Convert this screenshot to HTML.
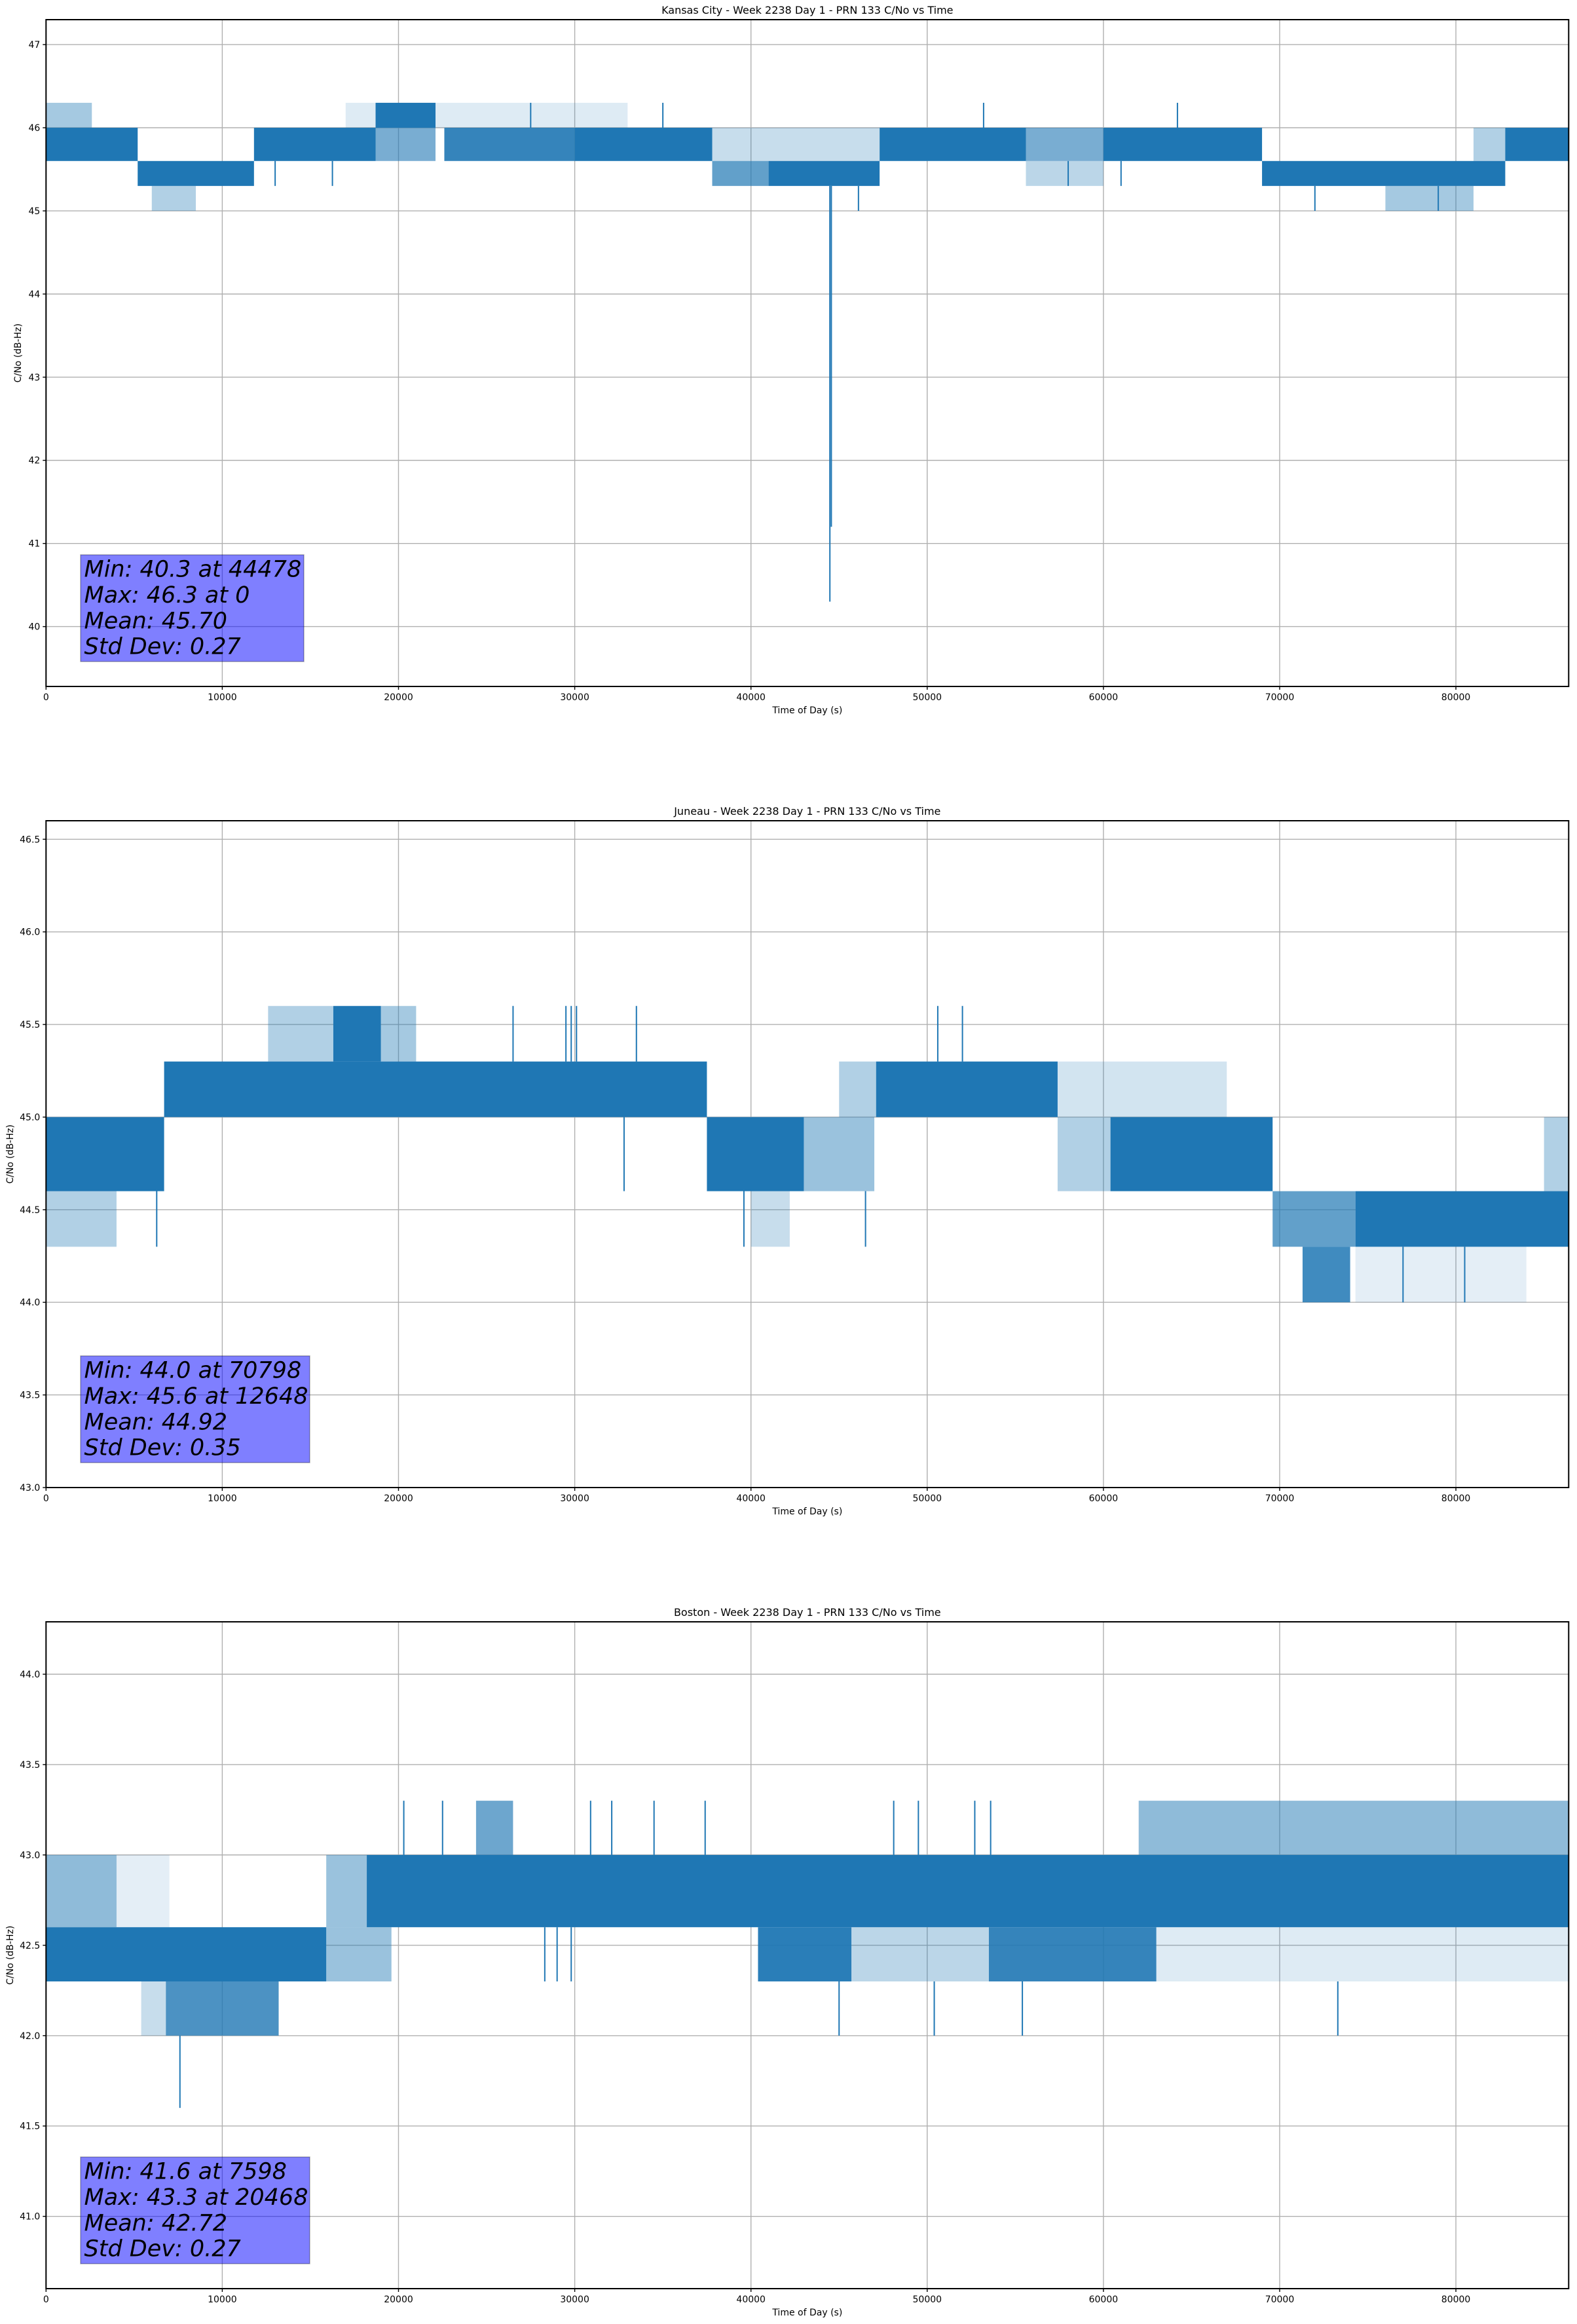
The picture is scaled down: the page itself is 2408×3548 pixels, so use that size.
<!DOCTYPE html>
<html><head><meta charset="utf-8">
<style>
html,body{margin:0;padding:0;background:#fff;}
svg{display:block;}
text{font-family:"DejaVu Sans","Liberation Sans",sans-serif;fill:#000;}
</style></head>
<body>
<svg id="fig" width="2408" height="3548" viewBox="0 0 2408 3548" xmlns="http://www.w3.org/2000/svg"></svg>
<script>
// ---------- Kansas City ----------
const kcTitle = "Kansas City - Week 2238 Day 1 - PRN 133 C/No vs Time";
const kcYTicks = [40, 41, 42, 43, 44, 45, 46, 47];
const kcYTickLabels = ["40","41","42","43","44","45","46","47"];
const kcBandStart = [0,0,5200,6000,11800,18700,18700,17000,22600,30000,37800,41000,37800,47300,55600,55600,60000,69000,76000,81000,82800];
const kcBandEnd   = [5200,2600,11800,8500,18700,22100,22100,33000,30000,37800,41000,47300,47300,55600,60000,60000,69000,82800,81000,82800,86400];
const kcBandLo    = [45.6,46.0,45.3,45.0,45.6,46.0,45.6,46.0,45.6,45.6,45.3,45.3,45.6,45.6,45.6,45.3,45.6,45.3,45.0,45.6,45.6];
const kcBandHi    = [46.0,46.3,45.6,45.3,46.0,46.3,46.0,46.3,46.0,46.0,45.6,45.6,46.0,46.0,46.0,45.6,46.0,45.6,45.3,46.0,46.0];
const kcBandDens  = [1,0.4,1,0.35,1,1,0.6,0.15,0.9,1,0.7,1,0.25,1,0.6,0.3,1,1,0.4,0.35,1];
const kcSpikeT    = [44478,44560,53200,64200,46100,16250,72000,13000,27500,35000,58000,61000,79000];
const kcSpikeLo   = [45.3,45.3,46.0,46.0,45.0,45.3,45.0,45.3,46.0,46.0,45.3,45.3,45.0];
const kcSpikeHi   = [40.3,41.2,46.3,46.3,45.3,45.6,45.3,45.6,46.3,46.3,45.6,45.6,45.3];
const kcStats = ["Min: 40.3 at 44478","Max: 46.3 at 0","Mean: 45.70","Std Dev: 0.27"];

// ---------- Juneau ----------
const juTitle = "Juneau - Week 2238 Day 1 - PRN 133 C/No vs Time";
const juYTicks = [43.0, 43.5, 44.0, 44.5, 45.0, 45.5, 46.0, 46.5];
const juYTickLabels = ["43.0","43.5","44.0","44.5","45.0","45.5","46.0","46.5"];
const juBandStart = [0,0,6700,12600,16300,19000,37500,43000,40000,45000,47100,57400,60400,57400,69600,71300,74300,74300,85000];
const juBandEnd   = [6700,4000,37500,16300,19000,21000,43000,47000,42200,47100,57400,60400,69600,67000,74300,74000,86400,84000,86400];
const juBandLo    = [44.6,44.3,45.0,45.3,45.3,45.3,44.6,44.6,44.3,45.0,45.0,44.6,44.6,45.0,44.3,44.0,44.3,44.0,44.6];
const juBandHi    = [45.0,44.6,45.3,45.6,45.6,45.6,45.0,45.0,44.6,45.3,45.3,45.0,45.0,45.3,44.6,44.3,44.6,44.3,45.0];
const juBandDens  = [1,0.35,1,0.35,1,0.4,1,0.45,0.25,0.35,1,0.35,1,0.2,0.7,0.85,1,0.12,0.35];
const juSpikeT    = [26500,29500,29800,30100,33500,50600,52000,32800,6280,39600,46500,80500,77000];
const juSpikeLo   = [45.3,45.3,45.3,45.3,45.3,45.3,45.3,45.0,44.6,44.6,44.6,44.3,44.3];
const juSpikeHi   = [45.6,45.6,45.6,45.6,45.6,45.6,45.6,44.6,44.3,44.3,44.3,44.0,44.0];
const juStats = ["Min: 44.0 at 70798","Max: 45.6 at 12648","Mean: 44.92","Std Dev: 0.35"];

// ---------- Boston ----------
const boTitle = "Boston - Week 2238 Day 1 - PRN 133 C/No vs Time";
const boYTicks = [41.0, 41.5, 42.0, 42.5, 43.0, 43.5, 44.0];
const boYTickLabels = ["41.0","41.5","42.0","42.5","43.0","43.5","44.0"];
const boBandStart = [0,0,4000,6800,5400,15900,15900,18200,40400,45700,53500,63000,24400,62000];
const boBandEnd   = [15900,4000,7000,13200,6800,19600,18200,86400,45700,53500,63000,86400,26500,86400];
const boBandLo    = [42.3,42.6,42.6,42.0,42.0,42.3,42.6,42.6,42.3,42.3,42.3,42.3,43.0,43.0];
const boBandHi    = [42.6,43.0,43.0,42.3,42.3,42.6,43.0,43.0,42.6,42.6,42.6,42.6,43.3,43.3];
const boBandDens  = [1,0.5,0.12,0.8,0.25,0.45,0.45,1,0.95,0.3,0.9,0.15,0.65,0.5];
const boSpikeT    = [7598,45000,50400,55400,73300,20300,22500,30900,32100,34500,37400,48100,49500,52700,53600,28300,29000,29800];
const boSpikeLo   = [42.0,42.3,42.3,42.3,42.3,43.0,43.0,43.0,43.0,43.0,43.0,43.0,43.0,43.0,43.0,42.6,42.6,42.6];
const boSpikeHi   = [41.6,42.0,42.0,42.0,42.0,43.3,43.3,43.3,43.3,43.3,43.3,43.3,43.3,43.3,43.3,42.3,42.3,42.3];
const boStats = ["Min: 41.6 at 7598","Max: 43.3 at 20468","Mean: 42.72","Std Dev: 0.27"];

const xTicks = [0,10000,20000,30000,40000,50000,60000,70000,80000];
const xTickLabels = ["0","10000","20000","30000","40000","50000","60000","70000","80000"];

const NS = "http://www.w3.org/2000/svg";
const svg = document.getElementById("fig");
const LEFT = 70.3, RIGHT = 2395.3, H = 1018, XMAX = 86400;
const BLUE = "#1f77b4";

function mk(tag, attrs, parent) {
  const e = document.createElementNS(NS, tag);
  for (const k in attrs) e.setAttribute(k, attrs[k]);
  parent.appendChild(e);
  return e;
}

function drawPanel(cfg) {
  const top = cfg.top, bottom = top + H;
  const g = mk("g", {}, svg);
  
  
  const xs = t => LEFT + (t / XMAX) * (RIGHT - LEFT);
  const ys = v => bottom - (v - cfg.ymin) / (cfg.ymax - cfg.ymin) * H;

  const grid = mk("g", {stroke: "#b0b0b0", "stroke-width": 1.4}, g);
  
  
  xTicks.forEach(t => mk("line", {x1: xs(t), x2: xs(t), y1: top, y2: bottom}, grid));
  cfg.yTicks.forEach(v => mk("line", {x1: LEFT, x2: RIGHT, y1: ys(v), y2: ys(v)}, grid));

  const series = mk("g", {fill: BLUE, stroke: BLUE}, g);
  
  
  for (let i = 0; i < cfg.bs.length; i++) {
    const r = mk("rect", {
      x: xs(cfg.bs[i]), width: Math.max(1, xs(cfg.be[i]) - xs(cfg.bs[i])),
      y: ys(cfg.bh[i]), height: ys(cfg.bl[i]) - ys(cfg.bh[i]),
      "fill-opacity": cfg.bd[i], stroke: "none"
    }, series);
    
    
  }
  for (let i = 0; i < cfg.st.length; i++) {
    const l = mk("line", {x1: xs(cfg.st[i]), x2: xs(cfg.st[i]), y1: ys(cfg.sl[i]), y2: ys(cfg.sh[i]), "stroke-width": 2}, series);
    
    
  }

  const fr = mk("rect", {x: LEFT, y: top, width: RIGHT - LEFT, height: H, fill: "none", stroke: "#000", "stroke-width": 2}, g);
  
  

  const xa = mk("g", {}, g);
  
  
  xTicks.forEach((t, i) => {
    mk("line", {x1: xs(t), x2: xs(t), y1: bottom, y2: bottom + 5, stroke: "#000", "stroke-width": 1.4}, xa);
    const tx = mk("text", {x: xs(t), y: bottom + 21, "text-anchor": "middle", "font-size": 14}, xa);
    tx.textContent = xTickLabels[i];
    
    
  });
  const xl = mk("text", {x: (LEFT + RIGHT) / 2, y: bottom + 41, "text-anchor": "middle", "font-size": 14}, g);
  xl.textContent = "Time of Day (s)";
  
  

  const ya = mk("g", {}, g);
  
  
  cfg.yTicks.forEach((v, i) => {
    mk("line", {x1: LEFT - 5, x2: LEFT, y1: ys(v), y2: ys(v), stroke: "#000", "stroke-width": 1.4}, ya);
    const tx = mk("text", {x: LEFT - 9, y: ys(v) + 5, "text-anchor": "end", "font-size": 14}, ya);
    tx.textContent = cfg.yLabels[i];
    
    
  });
  const ylx = cfg.ylabX, yly = (top + bottom) / 2;
  const yl = mk("text", {x: ylx, y: yly, "text-anchor": "middle", "font-size": 14, transform: `rotate(-90 ${ylx} ${yly})`}, g);
  yl.textContent = "C/No (dB-Hz)";
  
  

  const ti = mk("text", {x: (LEFT + RIGHT) / 2, y: top - 9, "text-anchor": "middle", "font-size": 16}, g);
  ti.textContent = cfg.title;
  
  

  const box = mk("g", {}, g);
  
  
  mk("rect", {x: 123, y: top + 817, width: cfg.boxW, height: 163, fill: "#0000ff", "fill-opacity": 0.5, stroke: "#000", "stroke-opacity": 0.3, "stroke-width": 1.5}, box);
  cfg.stats.forEach((s, i) => {
    const tx = mk("text", {x: 128.5, y: top + 850.7 + i * 39.3, "font-size": 35, "font-style": "italic"}, box);
    tx.textContent = s;
    
    
  });
}

drawPanel({name: "kansas-city", top: 30, ymin: 39.28, ymax: 47.3, title: kcTitle, yTicks: kcYTicks, yLabels: kcYTickLabels,
  bs: kcBandStart, be: kcBandEnd, bl: kcBandLo, bh: kcBandHi, bd: kcBandDens, st: kcSpikeT, sl: kcSpikeLo, sh: kcSpikeHi, stats: kcStats, boxW: 341, ylabX: 32});
drawPanel({name: "juneau", top: 1253, ymin: 43.0, ymax: 46.6, title: juTitle, yTicks: juYTicks, yLabels: juYTickLabels,
  bs: juBandStart, be: juBandEnd, bl: juBandLo, bh: juBandHi, bd: juBandDens, st: juSpikeT, sl: juSpikeLo, sh: juSpikeHi, stats: juStats, boxW: 350, ylabX: 20});
drawPanel({name: "boston", top: 2476, ymin: 40.6, ymax: 44.29, title: boTitle, yTicks: boYTicks, yLabels: boYTickLabels,
  bs: boBandStart, be: boBandEnd, bl: boBandLo, bh: boBandHi, bd: boBandDens, st: boSpikeT, sl: boSpikeLo, sh: boSpikeHi, stats: boStats, boxW: 350, ylabX: 20});
</script>
</body></html>
